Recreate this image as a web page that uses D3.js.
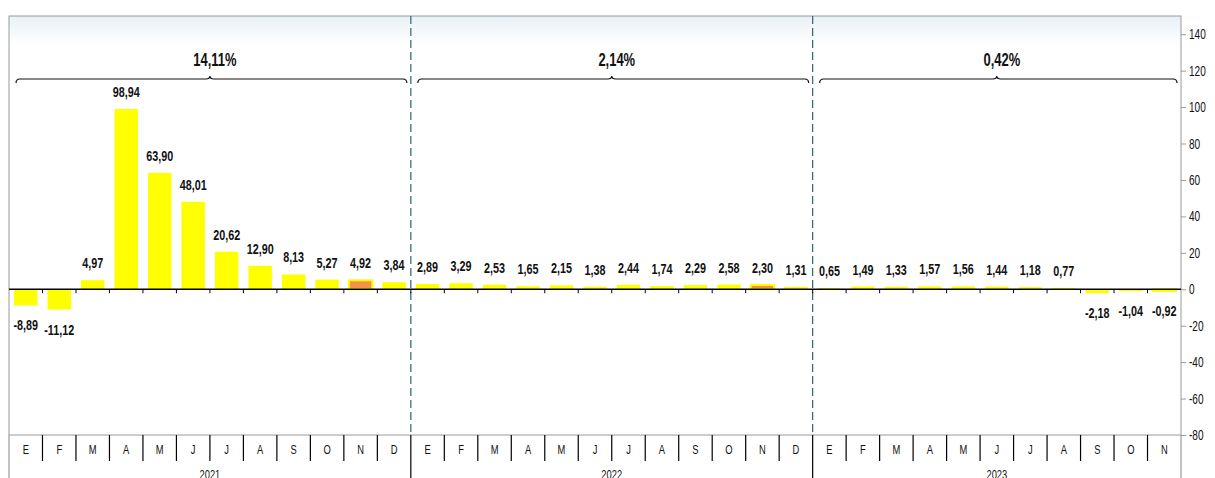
<!DOCTYPE html>
<meta charset="utf-8">
<style>
body { margin: 0; background: #fff; }
svg { display: block; font-family: "Liberation Sans", Arial, sans-serif; }
.lbl { font-weight: bold; font-size: 15px; fill: #111; }
.tot { font-weight: bold; font-size: 18px; fill: #111; }
.axis text { font-size: 14px; fill: #111; }
.axis path, .axis line { stroke: #999; }
.month { font-size: 13px; fill: #111; }
</style>
<body></body>
<script src="https://d3js.org/d3.v7.min.js"></script>
<script>
// chart data
var years = ["2021", "2022", "2023"];
var monthNames = ["E", "F", "M", "A", "M", "J", "J", "A", "S", "O", "N", "D"];
var values2021 = [-8.89, -11.12, 4.97, 98.94, 63.90, 48.01, 20.62, 12.90, 8.13, 5.27, 4.92, 3.84];
var values2022 = [2.89, 3.29, 2.53, 1.65, 2.15, 1.38, 2.44, 1.74, 2.29, 2.58, 2.30, 1.31];
var values2023 = [0.65, 1.49, 1.33, 1.57, 1.56, 1.44, 1.18, 0.77, -2.18, -1.04, -0.92];
var yearTotals = ["14,11%", "2,14%", "0,42%"];
var highlighted = [10, 22, 34]; // november bars
var yTicks = [-80, -60, -40, -20, 0, 20, 40, 60, 80, 100, 120, 140];

var W = 1215, H = 478;
var plotL = 9, plotR = 1181, plotT = 16, plotB = 435;
var squeeze = 0.72; // the original text is narrow

// flatten into one row per month
var data = [];
[values2021, values2022, values2023].forEach(function(vals, yi) {
  vals.forEach(function(v, mi) {
    data.push({ i: data.length, year: years[yi], month: monthNames[mi], value: v });
  });
});

var x = d3.scaleBand()
    .domain(data.map(function(d) { return d.i; }))
    .range([plotL, plotR])
    .paddingInner(0.3)
    .paddingOuter(0.15);
var step = x.step();
function edge(i) { return plotL + i * step; }

var y = d3.scaleLinear().domain([-80, 150]).range([plotB, plotT]);

function fmt(v) { return v.toFixed(2).replace(".", ","); }

// place a text at (fx, fy) and squeeze it horizontally
function place(sel, fx, fy) {
  sel.attr("transform", function(d, i) {
    return "translate(" + fx(d, i) + "," + fy(d, i) + ") scale(" + squeeze + ",1)";
  });
}

var svg = d3.select("body").append("svg")
    .attr("width", W)
    .attr("height", H);

// light gradient at the top of the plot area
var grad = svg.append("defs").append("linearGradient")
    .attr("id", "bg").attr("x1", 0).attr("y1", 0).attr("x2", 0).attr("y2", 1);
grad.append("stop").attr("offset", "0%").attr("stop-color", "#e8f1f7");
grad.append("stop").attr("offset", "7%").attr("stop-color", "#ffffff");

svg.append("rect")
    .attr("x", plotL).attr("y", plotT)
    .attr("width", plotR - plotL).attr("height", plotB - plotT)
    .attr("fill", "url(#bg)")
    .attr("stroke", "#999");

// year groups: index ranges
var groups = [];
var start = 0;
[values2021, values2022, values2023].forEach(function(vals, yi) {
  groups.push({ year: years[yi], total: yearTotals[yi], a: start, b: start + vals.length });
  start += vals.length;
});

// dashed year dividers
groups.slice(1).forEach(function(g) {
  svg.append("line")
      .attr("x1", edge(g.a)).attr("x2", edge(g.a))
      .attr("y1", plotT).attr("y2", plotB)
      .attr("stroke", "#2f6474")
      .attr("stroke-width", 1.2)
      .attr("stroke-dasharray", "8,4");
});

// braces + totals
groups.forEach(function(g) {
  var x0 = edge(g.a) + 7, x1 = edge(g.b) - 4, xm = (edge(g.a) + edge(g.b)) / 2;
  var yb = 79;
  var p = "M" + x0 + "," + (yb + 4) +
    " Q" + x0 + "," + yb + " " + (x0 + 4) + "," + yb +
    " L" + (xm - 4) + "," + yb +
    " Q" + xm + "," + yb + " " + xm + "," + (yb - 3) +
    " Q" + xm + "," + yb + " " + (xm + 4) + "," + yb +
    " L" + (x1 - 4) + "," + yb +
    " Q" + x1 + "," + yb + " " + x1 + "," + (yb + 4);
  svg.append("path").attr("d", p)
      .attr("fill", "none").attr("stroke", "#111").attr("stroke-width", 1.2);
});
svg.selectAll(".tot")
    .data(groups)
  .enter().append("text")
    .attr("class", "tot")
    .attr("text-anchor", "middle")
    .text(function(g) { return g.total; })
    .call(place, function(g) { return (edge(g.a) + edge(g.b)) / 2 + 5; }, function() { return 66; });

// bars
svg.selectAll(".bar")
    .data(data)
  .enter().append("rect")
    .attr("class", "bar")
    .attr("x", function(d) { return x(d.i); })
    .attr("width", x.bandwidth())
    .attr("y", function(d) { return y(Math.max(0, d.value)); })
    .attr("height", function(d) { return Math.abs(y(d.value) - y(0)); })
    .attr("fill", function(d) { return highlighted.indexOf(d.i) >= 0 ? "#f49248" : "#ffff00"; })
    .attr("stroke", function(d) { return highlighted.indexOf(d.i) >= 0 ? "#ffff00" : "none"; })
    .attr("stroke-width", 2);

// value labels
svg.selectAll(".lbl")
    .data(data)
  .enter().append("text")
    .attr("class", "lbl")
    .attr("text-anchor", "middle")
    .text(function(d) { return fmt(d.value); })
    .call(place,
      function(d) { return x(d.i) + x.bandwidth() / 2; },
      function(d) { return d.value >= 0 ? y(d.value) - 12 : y(d.value) + 25; });

// zero line + small ticks at month edges
svg.append("line")
    .attr("x1", plotL).attr("x2", plotR)
    .attr("y1", y(0)).attr("y2", y(0))
    .attr("stroke", "#000").attr("stroke-width", 1.5);
svg.selectAll(".ztick")
    .data(d3.range(1, data.length))
  .enter().append("line")
    .attr("x1", edge).attr("x2", edge)
    .attr("y1", y(0)).attr("y2", y(0) + 4)
    .attr("stroke", "#000");

// right axis
var ax = svg.append("g")
    .attr("class", "axis")
    .attr("transform", "translate(" + plotR + ",0)")
    .call(d3.axisRight(y).tickValues(yTicks).tickSize(5).tickPadding(3).tickFormat(d3.format("d")));
ax.select(".domain").remove();
ax.selectAll(".tick text")
    .text(function(d) { return String(d); })
    .attr("transform", "scale(" + squeeze + ",1)")
    .attr("x", 8 / squeeze);

// category axis: months row and years row
svg.selectAll(".msep")
    .data(d3.range(0, data.length + 1))
  .enter().append("line")
    .attr("x1", edge).attr("x2", edge)
    .attr("y1", plotB)
    .attr("y2", function(i) { return groups.some(function(g) { return g.a === i || g.b === i; }) ? H : plotB + 26; })
    .attr("stroke", function(i) { return (i === 0 || i === data.length) ? "#999" : "#000"; })
    .attr("stroke-width", 1.2);

svg.selectAll(".month")
    .data(data)
  .enter().append("text")
    .attr("class", "month")
    .attr("text-anchor", "middle")
    .text(function(d) { return d.month; })
    .call(place, function(d) { return x(d.i) + x.bandwidth() / 2; }, function() { return plotB + 19; });

svg.selectAll(".yearlbl")
    .data(groups)
  .enter().append("text")
    .attr("class", "month")
    .attr("text-anchor", "middle")
    .text(function(g) { return g.year; })
    .call(place, function(g) { return (edge(g.a) + edge(g.b)) / 2; }, function() { return H + 1; });
</script>
